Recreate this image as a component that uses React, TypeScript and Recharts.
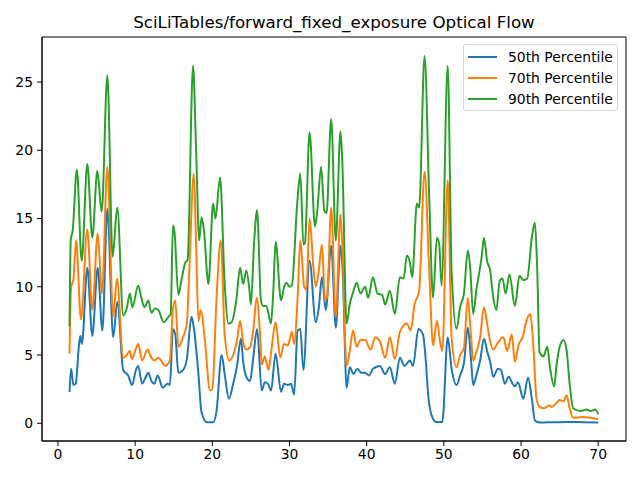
import { LineChart, Line, XAxis, YAxis, ReferenceArea } from "recharts";

// readings from the picture: [frame, flow magnitude]
const p50Points: [number, number][] = [
  [1.5, 2.3], [1.7, 4.0], [2.0, 2.8], [2.3, 2.9], [2.7, 5.6], [2.9, 6.4], [3.1, 5.8], [3.8, 11.4],
  [4.45, 6.4], [5.15, 11.4], [5.75, 6.8], [6.4, 15.7], [7.15, 6.3], [7.7, 8.9], [8.45, 3.9],
  [9.1, 3.5], [9.6, 2.8], [10.1, 3.9], [10.4, 4.2], [10.9, 2.9], [11.3, 3.3], [11.7, 3.7],
  [12.1, 3.1], [12.5, 2.9], [12.9, 3.5], [13.6, 2.6], [14.2, 2.9], [14.5, 2.8], [14.9, 6.9],
  [15.2, 6.5], [15.6, 3.7], [16.2, 3.9], [16.7, 4.7], [17.3, 7.8], [17.6, 7.0], [18.2, 3.6],
  [18.6, 0.8], [19.3, 0.07], [20.1, 0.07], [20.55, 0.93], [21.2, 5.0], [21.6, 3.6], [22.15, 1.8],
  [22.7, 2.9], [23.2, 4.2], [23.7, 6.2], [24.0, 4.5], [24.4, 3.4], [24.9, 3.1], [25.3, 4.8],
  [25.8, 6.9], [26.4, 2.4], [26.8, 3.0], [27.2, 2.9], [27.6, 2.4], [28.2, 5.1], [28.9, 2.3],
  [29.3, 2.9], [29.8, 2.8], [30.2, 2.9], [30.6, 2.1], [31.05, 6.8], [31.4, 6.9], [31.8, 3.9],
  [32.6, 11.9], [33.4, 7.4], [33.8, 8.5], [34.2, 10.7], [34.7, 8.3], [35.4, 13.0], [36.0, 7.0],
  [36.6, 13.0], [36.9, 11.0], [37.4, 2.6], [37.8, 4.1], [38.3, 3.6], [38.8, 4.0], [39.3, 3.7],
  [39.8, 3.7], [40.3, 3.5], [40.8, 4.0], [41.7, 4.2], [42.4, 3.6], [43.0, 4.1], [43.65, 2.9],
  [44.3, 4.8], [44.9, 4.2], [45.6, 4.6], [46.0, 4.2], [46.7, 6.9], [47.3, 6.5], [47.6, 5.0],
  [48.0, 1.9], [48.4, 0.6], [49.0, 0.1], [49.8, 0.1], [50.5, 6.3], [51.0, 4.0], [51.65, 2.8],
  [52.1, 3.5], [52.6, 4.4], [53.1, 7.0], [53.5, 4.8], [53.8, 2.8], [54.2, 3.5], [54.7, 4.6],
  [55.2, 6.2], [55.6, 5.3], [56.0, 4.5], [56.4, 3.4], [57.0, 4.0], [57.4, 3.9], [57.9, 2.9],
  [58.4, 3.4], [58.9, 2.9], [59.2, 2.7], [59.6, 3.0], [60.3, 1.8], [60.9, 3.35], [61.4, 1.8],
  [61.8, 0.2], [62.4, 0.05], [64.0, 0.08], [66.0, 0.1], [68.0, 0.08], [70.0, 0.05],
];

const p70Points: [number, number][] = [
  [1.5, 5.1], [1.7, 10.0], [2.0, 10.5], [2.35, 13.4], [2.98, 7.6], [3.8, 14.2], [4.45, 8.3],
  [5.15, 13.9], [5.7, 9.5], [6.4, 18.8], [7.15, 7.8], [7.65, 10.6], [8.45, 4.8], [8.9, 5.0],
  [9.3, 5.3], [9.6, 4.7], [10.0, 5.3], [10.4, 5.8], [10.9, 4.6], [11.6, 5.4], [12.0, 4.9],
  [12.5, 4.6], [13.0, 4.8], [13.9, 4.2], [14.5, 4.6], [14.9, 8.4], [15.2, 9.0], [15.6, 5.6],
  [16.2, 6.3], [16.7, 7.3], [17.0, 11.0], [17.6, 18.3], [17.9, 13.0], [18.2, 7.5], [18.5, 8.3],
  [19.0, 6.3], [19.7, 2.4], [20.0, 2.5], [20.55, 9.2], [21.1, 13.4], [21.6, 6.5], [22.2, 4.6],
  [22.7, 5.0], [23.2, 6.1], [23.6, 7.5], [24.0, 5.9], [24.4, 5.4], [24.9, 5.6], [25.3, 6.8],
  [25.75, 9.2], [26.2, 6.3], [26.4, 4.3], [26.8, 4.9], [27.0, 4.5], [27.3, 3.9], [27.6, 5.1],
  [28.2, 7.4], [28.8, 4.8], [29.3, 5.8], [29.8, 5.7], [30.3, 6.7], [30.6, 5.8], [31.05, 9.2],
  [31.4, 13.4], [31.9, 10.0], [32.2, 9.8], [32.6, 15.0], [33.1, 11.4], [33.4, 10.0], [33.8, 11.2],
  [34.2, 13.1], [34.6, 9.0], [34.9, 9.4], [35.4, 15.8], [36.0, 7.8], [36.6, 15.3], [36.8, 13.5],
  [37.4, 4.2], [37.8, 5.3], [38.25, 6.8], [38.7, 5.6], [39.2, 6.1], [39.8, 6.1], [40.5, 5.4],
  [41.1, 6.3], [41.7, 6.0], [42.4, 4.8], [43.0, 6.3], [43.65, 4.7], [44.3, 6.7], [45.2, 7.3],
  [45.7, 6.8], [46.2, 8.7], [46.8, 9.7], [47.5, 18.4], [48.1, 11.2], [48.6, 5.7], [49.1, 7.5],
  [49.5, 6.0], [49.8, 5.3], [50.5, 17.8], [51.0, 6.3], [51.65, 4.1], [52.1, 5.0], [52.6, 5.5],
  [53.1, 9.2], [53.5, 6.5], [53.8, 4.6], [54.2, 5.2], [54.7, 6.3], [55.2, 8.5], [55.6, 7.3],
  [56.0, 6.0], [56.4, 5.4], [57.0, 5.9], [57.7, 6.3], [58.2, 5.3], [58.8, 6.5], [59.2, 4.5],
  [59.7, 5.8], [60.2, 6.3], [60.7, 7.5], [61.2, 8.0], [61.6, 5.6], [62.0, 1.8], [62.4, 1.2],
  [63.0, 1.1], [63.6, 1.3], [64.0, 1.2], [64.6, 1.5], [65.0, 1.7], [65.5, 1.6], [65.9, 2.05],
  [66.3, 1.1], [66.75, 0.4], [68.0, 0.45], [69.0, 0.4], [70.0, 0.3],
];

const p90Points: [number, number][] = [
  [1.5, 7.1], [1.65, 13.4], [1.9, 14.1], [2.45, 18.6], [3.07, 11.9], [3.8, 19.0], [4.45, 13.6],
  [5.1, 18.5], [5.66, 15.5], [6.4, 25.5], [7.08, 12.2], [7.68, 15.8], [8.46, 7.9], [8.9, 8.4],
  [9.33, 9.5], [9.63, 8.5], [10.4, 10.1], [10.8, 9.2], [11.2, 8.5], [11.7, 9.0], [12.1, 8.1],
  [12.56, 8.4], [13.0, 8.3], [13.7, 7.4], [14.3, 7.8], [14.6, 8.0], [14.9, 14.5], [15.1, 14.0],
  [15.6, 9.4], [16.0, 10.5], [16.45, 11.7], [16.8, 12.0], [17.5, 26.2], [17.9, 20.0], [18.3, 13.4],
  [18.6, 15.1], [18.9, 14.2], [19.5, 10.2], [20.1, 16.1], [20.4, 15.0], [21.0, 18.0], [21.6, 10.2],
  [22.1, 7.3], [22.5, 7.4], [23.1, 9.0], [23.6, 11.4], [24.0, 10.2], [24.4, 11.2], [24.8, 9.8],
  [25.0, 8.7], [25.4, 13.1], [25.8, 15.6], [26.3, 9.0], [26.6, 8.6], [27.0, 8.6], [27.6, 7.3],
  [27.9, 9.7], [28.2, 13.3], [28.9, 9.0], [29.3, 10.0], [29.6, 10.3], [30.0, 10.0], [30.3, 10.1],
  [31.0, 16.1], [31.4, 18.3], [31.8, 13.1], [32.0, 13.2], [32.6, 21.3], [33.3, 14.4], [33.6, 15.6],
  [34.1, 18.8], [34.5, 15.6], [34.8, 15.4], [35.4, 22.3], [36.0, 13.4], [36.6, 21.4], [36.85, 19.0],
  [37.4, 7.3], [37.8, 8.7], [38.3, 9.7], [38.7, 10.3], [39.2, 9.5], [39.8, 10.0], [40.2, 9.2],
  [40.8, 10.7], [41.4, 9.5], [42.0, 9.4], [42.4, 8.7], [43.0, 9.7], [43.65, 8.0], [44.3, 10.7],
  [44.8, 10.6], [45.2, 12.3], [45.6, 11.8], [45.9, 10.7], [46.5, 16.1], [46.8, 15.8], [47.5, 26.9],
  [48.1, 16.6], [48.6, 9.2], [49.1, 13.6], [49.4, 13.1], [49.7, 10.1], [50.5, 26.2], [51.0, 11.2],
  [51.65, 6.9], [52.1, 8.5], [52.6, 9.5], [53.1, 12.65], [53.4, 11.5], [53.8, 8.0], [54.2, 9.7],
  [54.9, 12.2], [55.2, 13.6], [55.6, 11.9], [56.0, 11.2], [56.4, 9.2], [56.8, 8.3], [57.25, 10.45],
  [57.6, 10.6], [58.0, 9.5], [58.5, 10.9], [59.2, 8.6], [59.8, 10.8], [60.3, 10.5], [60.8, 10.6],
  [61.4, 13.6], [61.8, 14.7], [62.1, 11.2], [62.4, 5.2], [62.9, 4.9], [63.4, 5.6], [63.75, 4.1],
  [64.3, 2.7], [64.6, 4.25], [65.0, 5.6], [65.5, 6.1], [65.9, 5.35], [66.3, 2.9], [66.75, 1.1],
  [67.7, 0.9], [68.5, 1.0], [69.0, 0.9], [69.6, 1.0], [70.0, 0.66],
];

const xTicks = [0, 10, 20, 30, 40, 50, 60, 70];
const yTicks = [0, 5, 10, 15, 20, 25];
const xDomain: [number, number] = [-2.07, 73.6];
const yDomain: [number, number] = [-1.3, 28.3];

const series = [
  { name: "50th Percentile", color: "#1f77b4", points: p50Points },
  { name: "70th Percentile", color: "#ff7f0e", points: p70Points },
  { name: "90th Percentile", color: "#2ca02c", points: p90Points },
];

const FONT = "'DejaVu Sans', sans-serif";
const tickStyle = { fill: "#000", fontSize: 13.9, fontFamily: FONT };

export default function App() {
  return (
    <div
      style={{
        position: "absolute",
        left: 0,
        top: 0,
        width: 640,
        height: 480,
        background: "#fff",
        fontFamily: FONT,
      }}
    >
      <div
        style={{
          position: "absolute",
          left: 42,
          width: 584,
          top: 12,
          lineHeight: "20px",
          fontSize: 16.7,
          textAlign: "center",
          color: "#000",
        }}
      >
        SciLiTables/forward_fixed_exposure Optical Flow
      </div>
      <LineChart
        width={640}
        height={480}
        margin={{ top: 37, right: 14, bottom: 0, left: 0 }}
      >
        <XAxis
          type="number"
          dataKey="x"
          domain={xDomain}
          ticks={xTicks}
          allowDataOverflow
          height={39}
          tickSize={5}
          tickMargin={3}
          stroke="#000"
          tick={tickStyle}
        />
        <YAxis
          type="number"
          domain={yDomain}
          ticks={yTicks}
          allowDataOverflow
          width={42}
          tickSize={5}
          tickMargin={4}
          stroke="#000"
          tick={tickStyle}
        />
        {/* frame: matplotlib draws all four spines */}
        <ReferenceArea
          x1={xDomain[0]}
          x2={xDomain[1]}
          y1={yDomain[0]}
          y2={yDomain[1]}
          fill="none"
          fillOpacity={0}
          stroke="#000"
          strokeWidth={1}
          strokeOpacity={1}
        />
        {series.map((s) => (
          <Line
            key={s.name}
            name={s.name}
            data={s.points.map(([x, y]) => ({ x, y }))}
            dataKey="y"
            type="monotone"
            stroke={s.color}
            strokeWidth={2}
            dot={false}
            isAnimationActive={false}
          />
        ))}
      </LineChart>
      <div
        style={{
          position: "absolute",
          left: 463,
          top: 44,
          width: 153,
          height: 65,
          border: "1px solid #d5d5d5",
          borderRadius: 3,
          background: "rgba(255,255,255,0.8)",
        }}
      >
        {series.map((s, i) => (
          <div
            key={s.name}
            style={{
              position: "absolute",
              left: 4,
              top: 2 + i * 20.8,
              height: 20,
              display: "flex",
              alignItems: "center",
              fontSize: 13.9,
              color: "#000",
              whiteSpace: "nowrap",
            }}
          >
            <span
              style={{
                display: "inline-block",
                width: 29,
                height: 2,
                background: s.color,
                marginRight: 11,
              }}
            />
            {s.name}
          </div>
        ))}
      </div>
    </div>
  );
}
